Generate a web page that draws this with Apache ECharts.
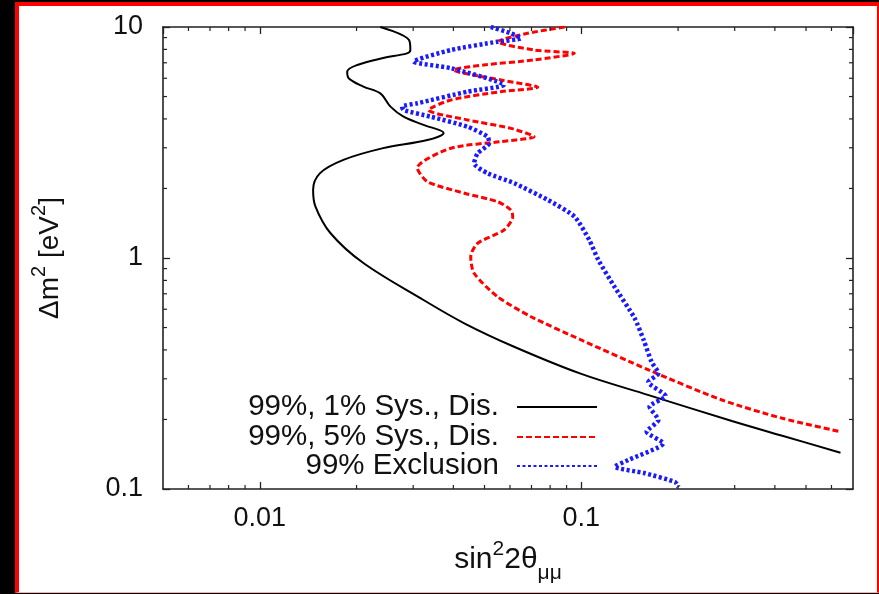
<!DOCTYPE html>
<html>
<head>
<meta charset="utf-8">
<script src="https://cdn.jsdelivr.net/npm/echarts@6/dist/echarts.min.js"></script>
<style>
  html, body { margin:0; padding:0; background:#000; width:879px; height:594px; overflow:hidden; }
  #frame { position:absolute; left:15px; top:2px; width:858px; height:586px; background:#fff;
           border-left:4px solid #ff0000; border-top:4px solid #ff0000; border-right:2px solid #ff0000; border-bottom:1px solid #f7b0b0; }
  #chart { position:absolute; left:0; top:0; width:879px; height:594px; }
</style>
</head>
<body>
<div id="frame"></div>
<div id="chart"></div>
<script>
// ---- data (sin^2 2theta, delta m^2) ----
const seriesNames = ['99%, 1% Sys., Dis.', '99%, 5% Sys., Dis.', '99% Exclusion'];

const blackX = [0.0237,0.0291,0.0294,0.0287,0.0242,0.0201,0.0187,0.0189,0.0210,0.0237,0.0255,0.0280,0.0323,0.0373,0.0332,0.0242,0.0182,0.0154,0.01465,0.0149,0.0166,0.0210,0.0323,0.0431,0.0618,0.100,0.162,0.294,0.422,0.640];
const blackY = [10,8.79,7.95,7.69,7.34,6.85,6.41,6.0,5.52,5.16,4.52,4.09,3.77,3.48,3.24,2.99,2.66,2.33,1.97,1.67,1.28,0.951,0.658,0.523,0.413,0.315,0.255,0.197,0.170,0.1436];

const redX = [0.0887,0.0681,0.0549,0.0713,0.0951,0.0713,0.0497,0.0401,0.0562,0.0732,0.0562,0.0393,0.0335,0.0443,0.0604,0.0713,0.0562,0.0393,0.0309,0.0332,0.0431,0.0549,0.0604,0.0612,0.0575,0.0476,0.0453,0.0464,0.0549,0.0698,0.100,0.162,0.274,0.422,0.641];
const redY = [10,9.39,8.64,7.95,7.69,7.2,6.85,6.51,5.90,5.48,5.25,4.83,4.37,3.96,3.64,3.35,3.19,2.985,2.453,2.14,1.911,1.753,1.614,1.51,1.322,1.158,1.013,0.859,0.680,0.557,0.4416,0.3275,0.2428,0.2023,0.177];

const blueX = [0.0523,0.0604,0.0649,0.0549,0.0393,0.0301,0.0393,0.0575,0.0443,0.0309,0.0277,0.0280,0.0340,0.0443,0.0511,0.0517,0.0476,0.0464,0.0511,0.0619,0.0787,0.0953,0.1059,0.1130,0.1268,0.1464,0.1563,0.1655,0.1737,0.1616,0.183,0.163,0.1737,0.1597,0.180,0.1399,0.127,0.1577,0.1957,0.2005];
const blueY = [10,9.39,8.93,8.64,7.95,7.08,6.63,5.61,5.25,4.675,4.52,4.37,4.09,3.70,3.35,3.137,2.84,2.57,2.327,2.106,1.783,1.51,1.196,0.98,0.751,0.55,0.4416,0.3545,0.317,0.2905,0.2528,0.2272,0.199,0.177,0.1577,0.1335,0.1249,0.117,0.1072,0.102];

// axis ranges and tick values
const xRange = [0.005, 0.7];
const yRange = [0.1, 10];
const xMinorTicks = [0.006,0.007,0.008,0.009,0.02,0.03,0.04,0.05,0.06,0.07,0.08,0.09,0.2,0.3,0.4,0.5,0.6];
const yMinorTicks = [0.2,0.3,0.4,0.5,0.6,0.7,0.8,0.9,2,3,4,5,6,7,8,9];

const FONT = '"Liberation Sans", Arial, Helvetica, sans-serif';
const TXT = '#111';
const AX = '#222';

function zip(xs, ys) { return xs.map((x, i) => [x, ys[i]]); }

function axisCommon(extra) {
  return Object.assign({
    type: 'log', logBase: 10,
    splitLine: { show: false },
    axisLine: { show: true, onZero: false, lineStyle: { color: AX, width: 1.6 } },
    axisTick: { show: true, inside: true, length: 7, lineStyle: { color: AX, width: 1.3 } },
    axisLabel: { show: false }
  }, extra);
}

const chart = echarts.init(document.getElementById('chart'), null, { renderer: 'canvas' });

function legendFor(name, top) {
  return {
    show: true, data: [name], orient: 'vertical', align: 'right',
    right: 281, top: top, padding: 0, itemGap: 0,
    itemWidth: 80, itemHeight: 14, selectedMode: false,
    itemStyle: { opacity: 0, borderWidth: 0 },
    textStyle: { fontFamily: FONT, fontSize: 29.5, color: TXT, lineHeight: 30, padding: [0, 13, 0, 0] }
  };
}

const option = {
  animation: false,
  backgroundColor: 'transparent',
  grid: { left: 163, right: 26, top: 27, bottom: 105, containLabel: false },
  legend: [legendFor(seriesNames[0], 392), legendFor(seriesNames[1], 422), legendFor(seriesNames[2], 451)],
  xAxis: [
    axisCommon({
      position: 'bottom', min: xRange[0], max: xRange[1],
      axisLabel: { show: true, showMinLabel: false, showMaxLabel: false, margin: 16,
        fontFamily: FONT, fontSize: 27, color: TXT,
        formatter: v => (v > 0.0099 && v < 0.0101) ? '0.01' : ((v > 0.099 && v < 0.101) ? '0.1' : '') },
      name: '{a|sin}{s|2}{a|2θ}{b|μμ}', nameLocation: 'middle', nameGap: 50,
      nameTextStyle: { fontFamily: FONT, color: TXT,
        rich: {
          a: { fontFamily: FONT, fontSize: 30, color: TXT, lineHeight: 36, verticalAlign: 'bottom' },
          s: { fontFamily: FONT, fontSize: 21, color: TXT, lineHeight: 36, verticalAlign: 'top' },
          b: { fontFamily: FONT, fontSize: 21, color: TXT, lineHeight: 28, verticalAlign: 'bottom', padding: [0,0,-9,0] }
        } }
    }),
    axisCommon({ position: 'top', min: xRange[0], max: xRange[1] })
  ],
  yAxis: [
    axisCommon({
      position: 'left', min: yRange[0], max: yRange[1],
      axisLabel: { show: true, margin: 20, fontFamily: FONT, fontSize: 27, color: TXT,
        formatter: v => v < 0.5 ? '0.1' : (v < 5 ? '1' : '10') },
      name: '{a|Δm}{s|2}{a| [eV}{s|2}{a|]}', nameLocation: 'middle', nameGap: 99, nameRotate: 90,
      nameTextStyle: { fontFamily: FONT, color: TXT,
        rich: {
          a: { fontFamily: FONT, fontSize: 28, color: TXT, lineHeight: 35, verticalAlign: 'bottom' },
          s: { fontFamily: FONT, fontSize: 20, color: TXT, lineHeight: 35, verticalAlign: 'top' }
        } }
    }),
    axisCommon({ position: 'right', min: yRange[0], max: yRange[1] })
  ],
  series: [
    {
      name: seriesNames[0], type: 'line', data: zip(blackX, blackY),
      symbol: 'none', smooth: 0.35, z: 3,
      lineStyle: { color: '#000', width: 2 }, itemStyle: { color: '#000' }
    },
    {
      name: seriesNames[1], type: 'line', data: zip(redX, redY),
      symbol: 'none', smooth: 0.25, z: 4,
      lineStyle: { color: '#ff0000', width: 3, type: [6, 3] }, itemStyle: { color: '#ff0000' }
    },
    {
      name: seriesNames[2], type: 'line', data: zip(blueX, blueY),
      symbol: 'none', smooth: 0.2, z: 5,
      lineStyle: { color: '#1a1aff', width: 4.5, type: [3, 2.5] }, itemStyle: { color: '#1a1aff' }
    },
    {
      type: 'custom', silent: true, z: 6,
      data: xMinorTicks.map(v => [v, yRange[0]]),
      encode: { x: 0, y: 1 },
      renderItem: function (params, api) {
        const v = api.value(0);
        const b = api.coord([v, yRange[0]]);
        const t = api.coord([v, yRange[1]]);
        const st = { stroke: AX, lineWidth: 1.2 };
        return { type: 'group', children: [
          { type: 'line', shape: { x1: b[0], y1: b[1], x2: b[0], y2: b[1] - 4 }, style: st },
          { type: 'line', shape: { x1: t[0], y1: t[1], x2: t[0], y2: t[1] + 4 }, style: st }
        ] };
      }
    },
    {
      type: 'custom', silent: true, z: 6,
      data: yMinorTicks.map(v => [xRange[0], v]),
      encode: { x: 0, y: 1 },
      renderItem: function (params, api) {
        const v = api.value(1);
        const l = api.coord([xRange[0], v]);
        const r = api.coord([xRange[1], v]);
        const st = { stroke: AX, lineWidth: 1.2 };
        return { type: 'group', children: [
          { type: 'line', shape: { x1: l[0], y1: l[1], x2: l[0] + 4, y2: l[1] }, style: st },
          { type: 'line', shape: { x1: r[0], y1: r[1], x2: r[0] - 4, y2: r[1] }, style: st }
        ] };
      }
    }
  ]
};
chart.setOption(option);
</script>
</body>
</html>
